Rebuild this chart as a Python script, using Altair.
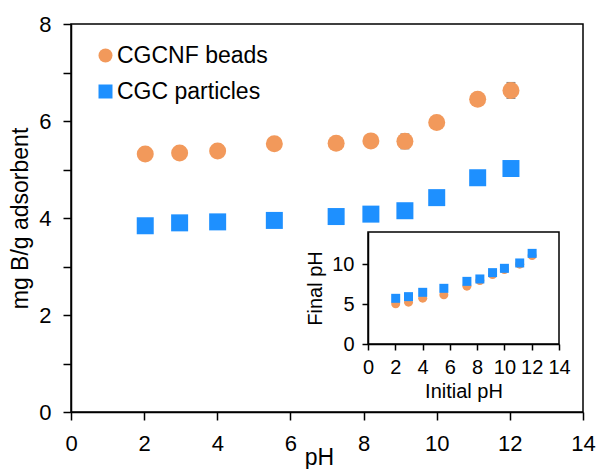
import altair as alt
import pandas as pd

# Initial pH of each batch (shared by the main plot and the inset)
ph_initial = [2.03, 2.97, 4.01, 5.56, 7.25, 8.20, 9.13, 10.00, 11.12, 12.03]

# Boron uptake, mg B per g adsorbent
cgcnf_uptake = [5.32, 5.34, 5.38, 5.53, 5.54, 5.59, 5.58, 5.97, 6.45, 6.63]
cgc_uptake = [3.84, 3.90, 3.92, 3.95, 4.03, 4.08, 4.15, 4.42, 4.83, 5.02]
cgcnf_err = [0, 0, 0, 0, 0, 0, 0.15, 0, 0, 0.16]

# Final pH after adsorption (inset)
cgcnf_final = [5.02, 5.23, 5.73, 6.15, 7.23, 7.94, 8.69, 9.31, 9.98, 11.06]
cgc_final = [5.71, 5.92, 6.46, 6.96, 7.83, 8.13, 8.92, 9.46, 10.13, 11.33]

series_names = ["CGCNF beads", "CGC particles"]
series_colors = ["#F2995B", "#1E90FF"]
series_shapes = ["circle", "square"]

main_ticks = list(range(0, 15))
main_y_ticks = list(range(0, 9))
inset_x_ticks = list(range(0, 15, 2))
inset_y_ticks = [0, 5, 10]
inset_extent = [0, 14]

FONT = "Liberation Sans"

df = pd.DataFrame({
    "ph": ph_initial * 2,
    "uptake": cgcnf_uptake + cgc_uptake,
    "err": cgcnf_err + [0] * len(cgc_uptake),
    "final": cgcnf_final + cgc_final,
    "series": [series_names[0]] * len(ph_initial) + [series_names[1]] * len(ph_initial),
})
df_err = df[df["err"] > 0]
df_box = pd.DataFrame({"ph": [inset_extent[0]], "ph_end": [inset_extent[1]],
                       "final": [inset_extent[0]], "final_end": [inset_extent[1]]})

even_only = "datum.value % 2 === 0 ? datum.label : ''"

x_main = alt.X(
    "ph:Q",
    scale=alt.Scale(domain=[0, 14], nice=False),
    axis=alt.Axis(values=main_ticks, labelExpr=even_only, title="pH",
                  tickSize=8, labelPadding=13, titlePadding=-8, titleX=248,
                  labelFontSize=22, titleFontSize=23, labelFlush=False,
                  labelBound=False, grid=False),
)
y_main = alt.Y(
    "uptake:Q",
    scale=alt.Scale(domain=[0, 8], nice=False),
    axis=alt.Axis(values=main_y_ticks, labelExpr=even_only,
                  title="mg B/g adsorbent", tickSize=8, labelPadding=12,
                  titlePadding=6, labelFontSize=22, titleFontSize=23, grid=False),
)

err_rule = alt.Chart(df_err).mark_rule(color="#555555", strokeWidth=1.5).encode(
    x=x_main,
    y=alt.Y("lo:Q", scale=alt.Scale(domain=[0, 8], nice=False)),
    y2="hi:Q",
).transform_calculate(lo="datum.uptake - datum.err", hi="datum.uptake + datum.err")

err_caps = alt.Chart(df_err).mark_tick(color="#555555", thickness=1.5, size=9,
                                       orient="horizontal").encode(
    x="ph:Q",
    y=alt.Y("cap:Q"),
).transform_calculate(lo="datum.uptake - datum.err", hi="datum.uptake + datum.err"
).transform_fold(["lo", "hi"], as_=["side", "cap"])

points = alt.Chart(df).mark_point(filled=True, opacity=1, size=289).encode(
    x=x_main,
    y=y_main,
    color=alt.Color("series:N", sort=series_names,
                    scale=alt.Scale(domain=series_names, range=series_colors),
                    legend=alt.Legend(title=None, orient="none", legendX=23, legendY=20,
                                      labelFontSize=23, symbolSize=196,
                                      rowPadding=12, labelOffset=0, padding=0)),
    shape=alt.Shape("series:N", sort=series_names,
                    scale=alt.Scale(domain=series_names, range=series_shapes)),
)

main = alt.layer(err_rule, err_caps, points)

# Inset: final pH against initial pH, placed inside the main plot area
x_in_scale = alt.Scale(domain=[0, 14], range=[297, 488], nice=False)
y_in_scale = alt.Scale(domain=[0, 14], range=[320, 208], nice=False)

x_in_axis = alt.Axis(orient="bottom", offset=-68, values=inset_x_ticks,
                     title="Initial pH", tickSize=6, labelPadding=7,
                     titlePadding=4, labelFontSize=20, titleFontSize=20,
                     labelOverlap=False, labelBound=False, labelFlush=False,
                     grid=False)
y_in_axis = alt.Axis(orient="left", offset=-297, values=inset_y_ticks,
                     title="Final pH", tickSize=6, labelPadding=8,
                     titlePadding=6, labelFontSize=20, titleFontSize=20,
                     labelOverlap=False, grid=False)

x_inset = alt.X("ph:Q", scale=x_in_scale, axis=x_in_axis)
y_inset = alt.Y("final:Q", scale=y_in_scale, axis=y_in_axis)

box = alt.Chart(df_box).mark_rect(fill=None, stroke="black", strokeWidth=1.5).encode(
    x=x_inset,
    x2="ph_end:Q",
    y=y_inset,
    y2="final_end:Q",
)

inset_circles = alt.Chart(df[df["series"] == series_names[0]]).mark_point(
    filled=True, opacity=1, size=81, shape="circle", color=series_colors[0]
).encode(x=x_inset, y=y_inset)

inset_squares = alt.Chart(df[df["series"] == series_names[1]]).mark_point(
    filled=True, opacity=1, size=81, shape="square", color=series_colors[1]
).encode(x=x_inset, y=y_inset)

inset = alt.layer(inset_circles, inset_squares, box)

chart = alt.layer(main, inset).resolve_scale(
    x="independent", y="independent"
).properties(
    width=512, height=388,
    autosize=alt.AutoSizeParams(type="none"),
    padding={"left": 71, "top": 24, "right": 17, "bottom": 57},
).configure(
    font=FONT,
).configure_view(
    stroke="black", strokeWidth=1.5,
).configure_axis(
    domainColor="black", domainWidth=1.5, tickColor="black", tickWidth=1.5,
    labelColor="black", titleColor="black", titleFontWeight="normal",
    labelFont=FONT, titleFont=FONT,
).configure_legend(
    labelFont=FONT, labelColor="black",
)

chart.save("out.html", embed_options={"renderer": "svg", "actions": False})
